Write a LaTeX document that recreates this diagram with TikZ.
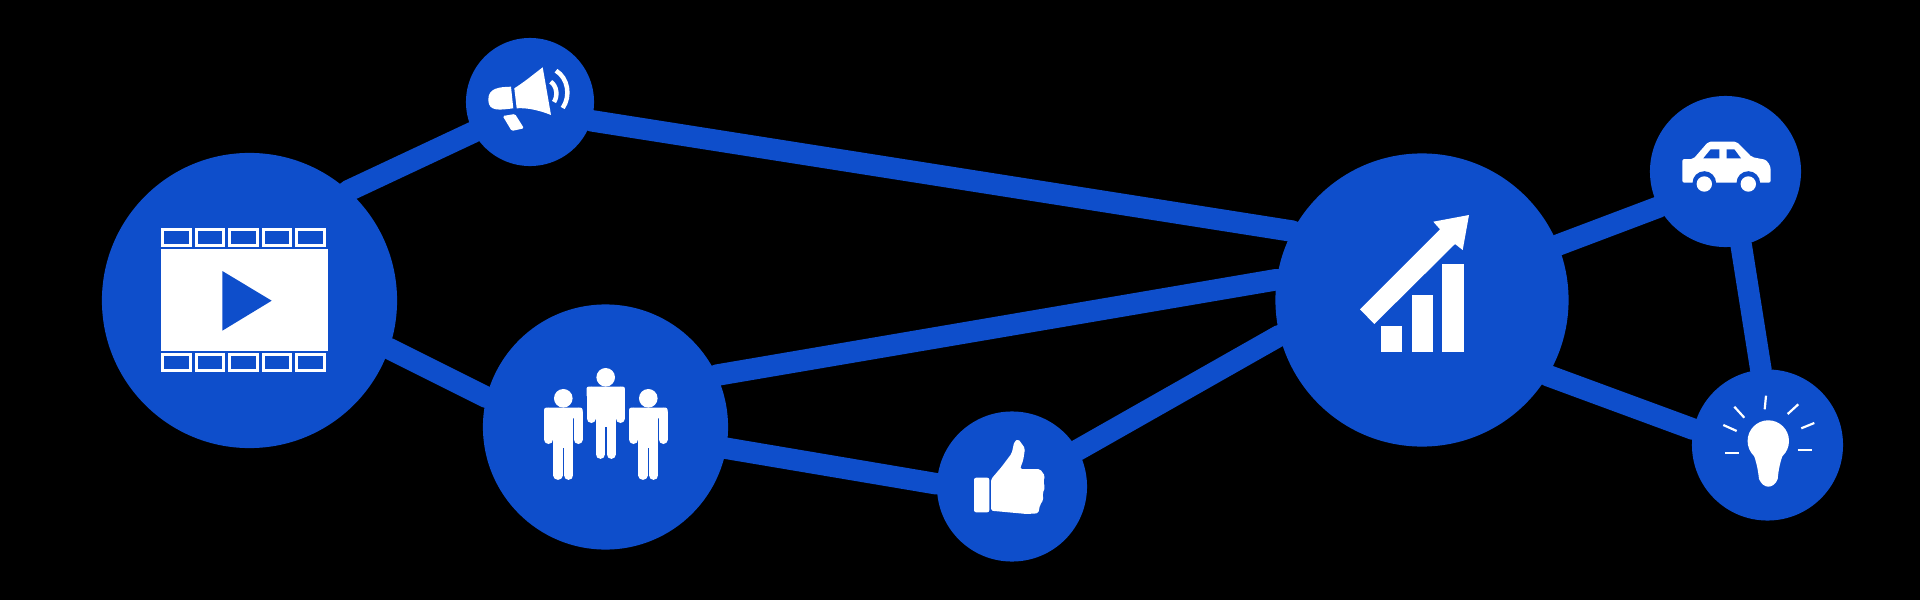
\documentclass[tikz,border=0pt]{standalone}
\usepackage{tikz}
\usetikzlibrary{backgrounds}
\definecolor{netblue}{RGB}{14,78,203}

\begin{document}
\begin{tikzpicture}[x=0.01cm,y=-0.01cm,
		hub/.style={circle,fill=netblue,inner sep=0pt,outer sep=0pt},
		link/.style={netblue,line width=0.215cm,line cap=round},
		ray/.style={white,line width=0.022cm},
		filmcell/.style={draw=white,line width=0.03cm}]
		\node[hub,minimum size=2.95cm] (video) at (249.5,300.5) {};
		\node[hub,minimum size=1.28cm] (horn) at (530,102) {};
		\node[hub,minimum size=2.45cm] (crowd) at (605.5,427) {};
		\node[hub,minimum size=1.5cm] (thumb) at (1012,486.5) {};
		\node[hub,minimum size=2.93cm] (growth) at (1422,300) {};
		\node[hub,minimum size=1.51cm] (car) at (1725.5,171.5) {};
		\node[hub,minimum size=1.51cm] (bulb) at (1767.5,445) {};
		\begin{scope}[on background layer]
			\fill[black] (0,0) rectangle (1920,600);
			\draw[link] (video.48) -- (horn.208);
			\draw[link] (horn.-17) -- (growth.152);
			\draw[link] (video.-19) -- (crowd.166.6);
			\draw[link] (crowd.25.5) -- (growth.172.3);
			\draw[link] (crowd.-10.5) -- (thumb.178);
			\draw[link] (thumb.29.3) -- (growth.194.7);
			\draw[link] (growth.22.7) -- (car.208.2);
			\draw[link] (growth.-31.8) -- (bulb.168.6);
			\draw[link] (car.-78) -- (bulb.95);
		\end{scope}
		% film strip
		\fill[white] (161,249) rectangle (328.3,350.7);
		\fill[netblue] (222.3,271) -- (271.7,300.7) -- (222.3,330.7) -- cycle;
		\foreach \x in {0,1,2,3,4}
		{
			\draw[filmcell] (162.5+33.6*\x,229.8) rectangle ++(27.6,15.7);
			\draw[filmcell] (162.5+33.6*\x,354.8) rectangle ++(27.6,15.4);
		}
		% megaphone
		\fill[white] (514.3,88.3) .. controls (523,83) and (534,74) .. (542.7,67.3) -- (551,115) .. controls (540,110.5) and (527,107.5) .. (516.7,108.3) -- cycle;
		\fill[white] (511,86.7) .. controls (499,87) and (488,88) .. (488.3,100) .. controls (488.5,112) and (500,110) .. (513.3,108.3) -- cycle;
		\fill[white,rounded corners=0.4pt] (502.7,116) -- (515,114) -- (524,128.3) -- (511.7,131) -- cycle;
		\draw[white,line width=0.045cm] (550.7,81.7) .. controls (557,86) and (558,96) .. (554,102);
		\draw[white,line width=0.045cm] (556,70.7) .. controls (568,78) and (571,96) .. (562.7,108);
		% three people
		\foreach \x/\y in {563.3/398.3,605.7/377.3,648.3/398.3}
		{
			\begin{scope}[shift={(\x,\y)}]
				\fill[white] (0,0) circle (0.093cm);
				\fill[white,rounded corners=0.6pt] (-19.2,9.3) rectangle (19.2,20);
				\fill[white] (-10,12) rectangle (10,50);
				\draw[white,line width=0.09cm,line cap=round] (-14.7,14) -- (-14.7,41.2);
				\draw[white,line width=0.09cm,line cap=round] (14.7,14) -- (14.7,41.2);
				\draw[white,line width=0.092cm,line cap=round] (-5.4,45) -- (-5.4,77);
				\draw[white,line width=0.092cm,line cap=round] (5.4,45) -- (5.4,77);
			\end{scope}
		}
		% thumb up
		\fill[white,rounded corners=0.6pt] (974,477.7) rectangle (989.3,512.3);
		\fill[white,rounded corners=0.5pt] (991,479.3) -- (1001.7,466.7) -- (1011.7,453.3) -- (1014.3,441.7) -- (1018.3,439) -- (1025,448.3) -- (1023.3,460) -- (1020,469) -- (1040,469) -- (1045,476) -- (1043.3,481.7) -- (1045,487.3) -- (1042.7,493.3) -- (1043.3,500) -- (1040,505) -- (1038.3,513.3) -- (1026.7,514) -- (991,510.7) -- cycle;
		% growth chart
		\fill[white] (1380.7,326) rectangle (1402,352.3);
		\fill[white] (1411.7,294.7) rectangle (1433,352.3);
		\fill[white] (1442.3,264) rectangle (1463.7,352.3);
		\fill[white] (1360,309.3) -- (1440,229.3) -- (1433.3,221.7) -- (1469,215) -- (1462.7,250) -- (1455,244) -- (1374.3,324) -- cycle;
		% car
		\fill[white,rounded corners=0.6pt] (1682.3,159) -- (1693.3,159) -- (1708.3,141.7) -- (1736.7,141.7) -- (1751.7,157) -- (1761.7,159) .. controls (1767,160) and (1770.7,165) .. (1770.7,172) -- (1770.7,182.7) -- (1682.3,182.7) -- cycle;
		\fill[netblue] (1704.3,183) circle (0.118cm);
		\fill[netblue] (1748.3,183) circle (0.118cm);
		\fill[netblue] (1692,182.7) rectangle (1761,192);
		\fill[white] (1704.3,184) circle (0.077cm);
		\fill[white] (1748.3,184) circle (0.077cm);
		\fill[netblue] (1703.3,158.3) -- (1710.7,149.3) -- (1719.3,149.3) -- (1719.3,158.3) -- cycle;
		\fill[netblue] (1726.7,149.3) -- (1734.3,149.3) -- (1741,158.3) -- (1726.7,158.3) -- cycle;
		% light bulb
		\fill[white] (1768.3,441) circle (0.207cm);
		\fill[white] (1753,453) .. controls (1756.5,462) and (1758,470) .. (1759,479) .. controls (1761,484) and (1765,486.7) .. (1768.3,486.7) .. controls (1772,486.7) and (1776,484) .. (1777.7,479) .. controls (1778.5,470) and (1780,462) .. (1783.6,453) -- cycle;
		\draw[ray] (1766,395.7) -- (1764.7,409.3);
		\draw[ray] (1734.3,406.7) -- (1744.3,417.7);
		\draw[ray] (1723.3,425) -- (1736.7,431);
		\draw[ray] (1725,453.3) -- (1739.3,453.3);
		\draw[ray] (1798.3,404.3) -- (1787.7,414);
		\draw[ray] (1814.3,423) -- (1801.3,428.3);
		\draw[ray] (1797.7,450.3) -- (1811.7,450.3);
	\end{tikzpicture}
\end{document}
